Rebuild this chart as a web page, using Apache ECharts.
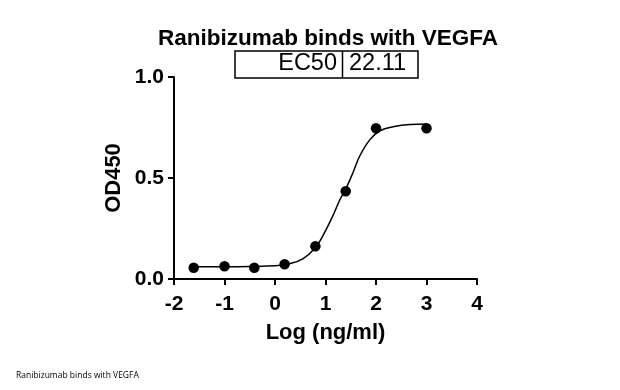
<!DOCTYPE html>
<html>
<head>
<meta charset="utf-8">
<script src="https://cdn.jsdelivr.net/npm/echarts@6/dist/echarts.min.js"></script>
<style>html,body{margin:0;padding:0;background:#fff;}#c{width:620px;height:390px;}</style>
</head>
<body>
<div id="c"></div>
<script>
// Measured points (log concentration, OD450)
var logConc = [-1.61, -1.0, -0.41, 0.19, 0.80, 1.40, 2.0, 3.0];
var od450   = [0.056, 0.063, 0.056, 0.073, 0.162, 0.434, 0.746, 0.746];
// Fitted curve
var curveX = [-1.61, -1.0, -0.5, 0.0, 0.29, 0.55, 0.8, 0.95, 1.15, 1.28, 1.4, 1.55, 1.68, 1.88, 2.08, 2.34, 2.67, 3.0];
var curveY = [0.061, 0.061, 0.062, 0.065, 0.076, 0.100, 0.155, 0.215, 0.315, 0.390, 0.445, 0.530, 0.610, 0.690, 0.734, 0.754, 0.765, 0.767];
var xTicks = [-2, -1, 0, 1, 2, 3, 4];
var yTicks = [0.0, 0.5, 1.0];
var titleText = 'Ranibizumab binds with VEGFA';
var ecLabel = 'EC50';
var ecValue = '22.11';

var chart = echarts.init(document.getElementById('c'));
var font = 'Liberation Sans, Arial, sans-serif';
var pts = logConc.map(function (x, i) { return [x, od450[i]]; });
var curve = curveX.map(function (x, i) { return [x, curveY[i]]; });

chart.setOption({
  animation: false,
  title: {
    text: titleText,
    left: 323, top: 22, textAlign: 'center',
    textStyle: { fontFamily: font, fontSize: 22.5, fontWeight: 'bold', color: '#000' }
  },
  grid: { left: 174, right: 143, top: 77, bottom: 111 },
  xAxis: {
    type: 'value', min: xTicks[0], max: xTicks[xTicks.length - 1], interval: 1,
    name: 'Log (ng/ml)', nameLocation: 'middle', nameGap: 43,
    nameTextStyle: { fontFamily: font, fontSize: 22, fontWeight: 'bold', color: '#000' },
    axisLine: { lineStyle: { color: '#000', width: 2 } },
    axisTick: { length: 6, lineStyle: { color: '#000', width: 2 } },
    axisLabel: { fontFamily: font, fontSize: 21, fontWeight: 'bold', color: '#000', margin: 15 },
    splitLine: { show: false }
  },
  yAxis: {
    type: 'value', min: yTicks[0], max: yTicks[yTicks.length - 1], interval: 0.5,
    name: 'OD450', nameLocation: 'middle', nameGap: 49,
    nameTextStyle: { fontFamily: font, fontSize: 22, fontWeight: 'bold', color: '#000' },
    axisLine: { show: true, onZero: false, lineStyle: { color: '#000', width: 2 } },
    axisTick: { show: true, length: 6, lineStyle: { color: '#000', width: 2 } },
    axisLabel: { fontFamily: font, fontSize: 21, fontWeight: 'bold', color: '#000', margin: 10,
      formatter: function (v) { return v.toFixed(1); } },
    splitLine: { show: false }
  },
  series: [
    {
      type: 'line', data: curve, smooth: 0.4, showSymbol: false, symbol: 'none',
      lineStyle: { color: '#000', width: 1.5 }, z: 2
    },
    {
      type: 'scatter', data: pts, symbol: 'circle', symbolSize: 10.5,
      itemStyle: { color: '#000', opacity: 1 }, z: 3
    }
  ],
  graphic: [
    { type: 'rect', shape: { x: 235, y: 51, width: 183, height: 27 },
      style: { fill: 'none', stroke: '#000', lineWidth: 1.5 } },
    { type: 'line', shape: { x1: 342.5, y1: 51, x2: 342.5, y2: 78 },
      style: { stroke: '#000', lineWidth: 1.5 } },
    { type: 'text', x: 337, y: 64, style: { text: ecLabel, fontFamily: font, fontSize: 23.5,
      fill: '#000', textAlign: 'right', textVerticalAlign: 'middle' } },
    { type: 'text', x: 349, y: 64, style: { text: ecValue, fontFamily: font, fontSize: 23.5,
      fill: '#000', textAlign: 'left', textVerticalAlign: 'middle' } },
    { type: 'text', x: 16, y: 376, style: { text: titleText, fontFamily: 'Open Sans, sans-serif', fontSize: 8.5,
      fill: '#000', textAlign: 'left', textVerticalAlign: 'middle' } }
  ]
});
</script>
</body>
</html>
